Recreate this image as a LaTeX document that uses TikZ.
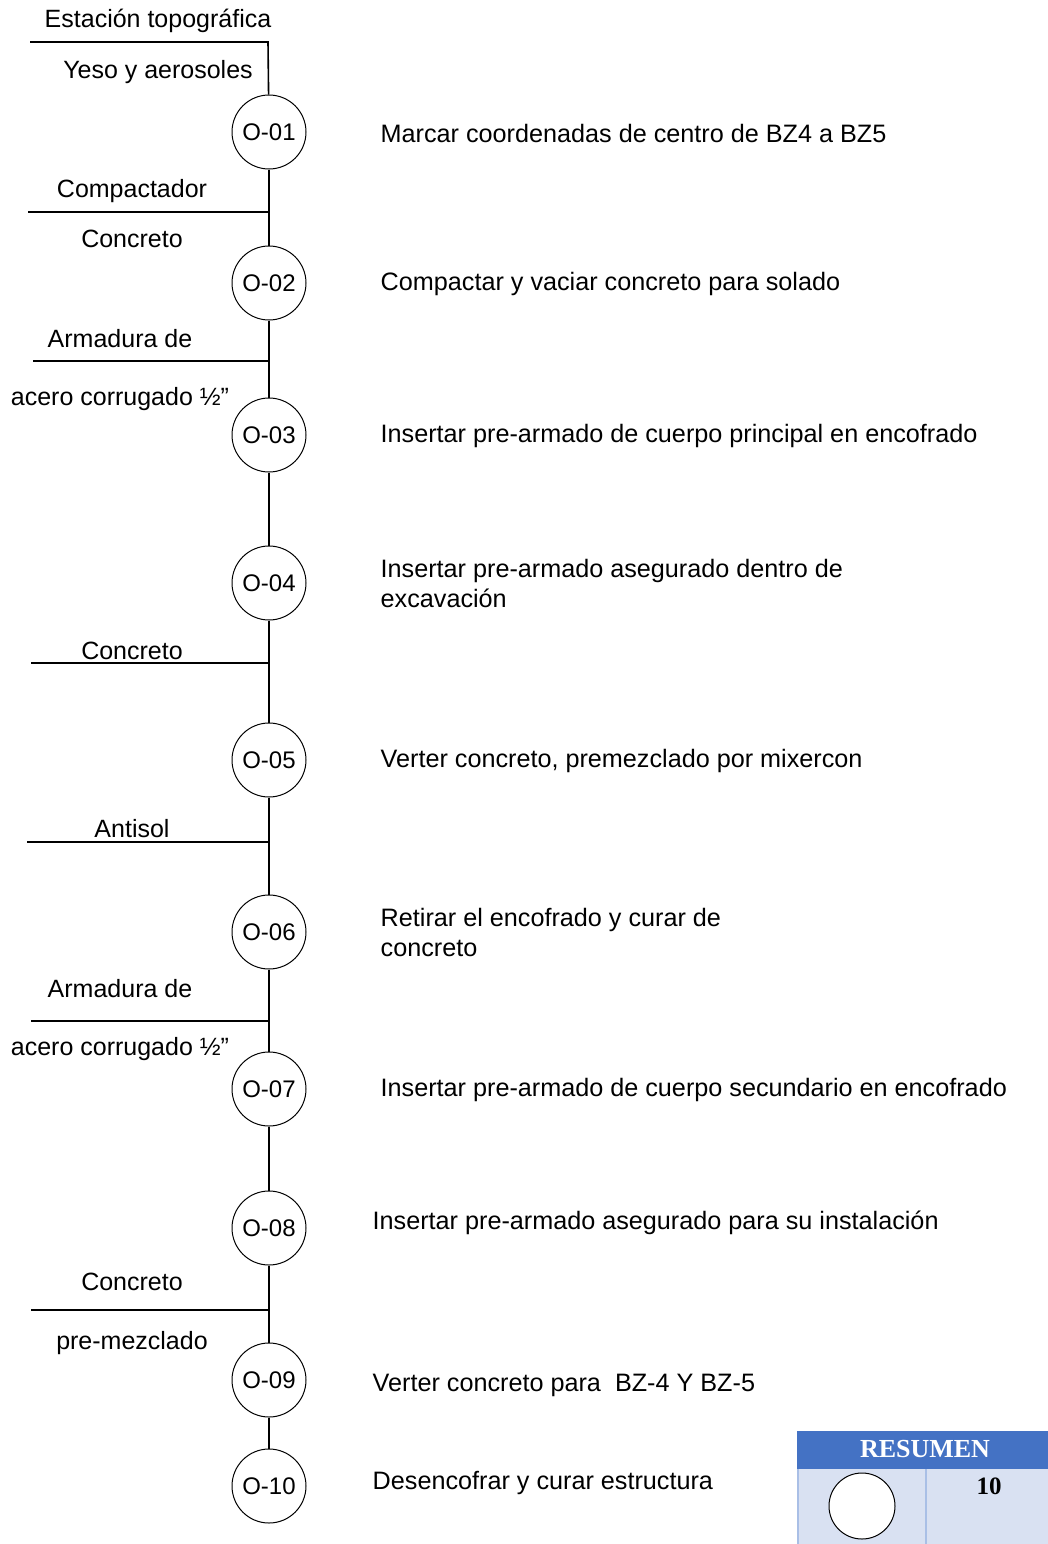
\documentclass[tikz,border=0pt]{standalone}
\usepackage{fontspec}
\setmainfont{Liberation Sans}
\newfontfamily\timesfont{Liberation Serif}
\usepackage{tikz}
\usetikzlibrary{positioning}
\definecolor{headblue}{HTML}{4472C4}
\definecolor{bodyblue}{HTML}{D9E1F2}
\definecolor{gridblue}{HTML}{A9BFE6}
\tikzstyle{oper} = [circle, minimum size=74pt, inner sep=0pt, draw=black, line width=1pt, fill=white, font=\fontsize{24}{28}\selectfont]
\tikzstyle{desc} = [anchor=west, align=left, inner sep=0pt, font=\fontsize{25.2}{30}\selectfont]
\tikzstyle{mat} = [inner sep=0pt, font=\fontsize{25}{30}\selectfont]
\tikzstyle{line} = [-, line width=1.6pt]

\begin{document}
\begin{tikzpicture}[x=1pt, y=-1pt]

    \useasboundingbox (0,0) rectangle (1048,1544);

    % operaciones
    \node (o1) [oper] at (269,132) {O-01};
    \node (o2) [oper] at (269,283) {O-02};
    \node (o3) [oper] at (269,435) {O-03};
    \node (o4) [oper] at (269,583) {O-04};
    \node (o5) [oper] at (269,760) {O-05};
    \node (o6) [oper] at (269,932) {O-06};
    \node (o7) [oper] at (269,1089) {O-07};
    \node (o8) [oper] at (269,1228) {O-08};
    \node (o9) [oper] at (269,1380) {O-09};
    \node (o10) [oper] at (269,1486) {O-10};

    \draw [line] (o1) -- (o2);
    \draw [line] (o2) -- (o3);
    \draw [line] (o3) -- (o4);
    \draw [line] (o4) -- (o5);
    \draw [line] (o5) -- (o6);
    \draw [line] (o6) -- (o7);
    \draw [line] (o7) -- (o8);
    \draw [line] (o8) -- (o9);
    \draw [line] (o9) -- (o10);

    % descripciones
    \node (d1) [desc, right=74pt of o1, yshift=-1pt] {Marcar coordenadas de centro de BZ4 a BZ5};
    \node (d2) [desc, right=74pt of o2, yshift=-1pt] {Compactar y vaciar concreto para solado};
    \node (d3) [desc, right=74pt of o3, yshift=-1pt] {Insertar pre-armado de cuerpo principal en encofrado};
    \node (d4) [desc, right=74pt of o4] {Insertar pre-armado asegurado dentro de\\excavación};
    \node (d5) [desc, right=74pt of o5, yshift=-1pt] {Verter concreto, premezclado por mixercon};
    \node (d6) [desc, right=74pt of o6] {Retirar el encofrado y curar de\\concreto};
    \node (d7) [desc, right=74pt of o7, yshift=-1pt] {Insertar pre-armado de cuerpo secundario en encofrado};
    \node (d8) [desc, right=66pt of o8, yshift=5pt] {Insertar pre-armado asegurado para su instalación};
    \node (d9) [desc, right=66pt of o9, yshift=-5pt] {Verter concreto para \ BZ-4 Y BZ-5};
    \node (d10) [desc, right=66pt of o10, yshift=3pt] {Desencofrar y curar estructura};

    % materiales
    \coordinate (tin) at (30,42);
    \coordinate (tcorner) at (268,42);
    \draw [line] (tin) -- (tcorner) -- (o1);
    \node (m1a) [mat] at (158,21) {Estación topográfica};
    \node (m1b) [mat] at (158,72) {Yeso y aerosoles};

    \coordinate (in2) at (28,212);
    \draw [line] (in2) -- (in2 -| o1);
    \node (m2a) [mat] at (132,191) {Compactador};
    \node (m2b) [mat] at (132,239) {Concreto};

    \coordinate (in3) at (33,361);
    \draw [line] (in3) -- (in3 -| o1);
    \node (m3a) [mat] at (120,339) {Armadura de};
    \node (m3b) [mat] at (120,399) {acero corrugado ½”};

    \coordinate (in5) at (31,663);
    \draw [line] (in5) -- (in5 -| o1);
    \node (m5) [mat] at (132,651) {Concreto};

    \coordinate (in6) at (27,842);
    \draw [line] (in6) -- (in6 -| o1);
    \node (m6) [mat] at (132,829) {Antisol};

    \coordinate (in7) at (31,1021);
    \draw [line] (in7) -- (in7 -| o1);
    \node (m7a) [mat] at (120,989) {Armadura de};
    \node (m7b) [mat] at (120,1049) {acero corrugado ½”};

    \coordinate (in9) at (31,1310);
    \draw [line] (in9) -- (in9 -| o1);
    \node (m9a) [mat] at (132,1282) {Concreto};
    \node (m9b) [mat] at (132,1343) {pre-mezclado};

    % resumen
    \fill [headblue] (797,1431) rectangle (1048,1469);
    \fill [bodyblue] (797,1469) rectangle (1048,1544);
    \draw [gridblue, line width=1.5pt] (798,1469) -- (798,1544);
    \draw [gridblue, line width=1.5pt] (926,1469) -- (926,1544);
    \node (res) [text=white, font=\timesfont\bfseries\fontsize{26}{30}\selectfont] at (925,1449) {RESUMEN};
    \node (sym) [circle, minimum size=66pt, inner sep=0pt, draw=black, line width=1pt, fill=white] at (862,1506) {};
    \node (cnt) [font=\timesfont\bfseries\fontsize{25}{30}\selectfont] at (989,1486) {10};

\end{tikzpicture}
\end{document}
